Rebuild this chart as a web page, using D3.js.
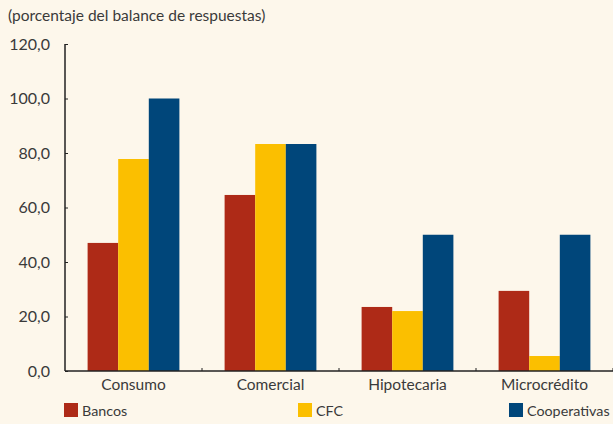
<!DOCTYPE html>
<html>
<head>
<meta charset="utf-8">
<script src="https://cdn.jsdelivr.net/npm/d3@7"></script>
<style>
  body { margin: 0; background: #fdf7eb; }
  svg { display: block; }
  text { font-family: Lato, "Open Sans", sans-serif; fill: #3a3a3a; }
</style>
</head>
<body>
<script>
// data
var categories = ["Consumo", "Comercial", "Hipotecaria", "Microcrédito"];
var seriesNames = ["Bancos", "CFC", "Cooperativas"];
var bancos = [47.0, 64.6, 23.5, 29.4];
var cfc = [77.8, 83.3, 22.0, 5.5];
var cooperativas = [100.0, 83.3, 50.0, 50.0];
var yTicks = [0, 20, 40, 60, 80, 100, 120];
var colors = ["#ae2a17", "#fbbf00", "#00467a"];

var w = 613, h = 424;
var svg = d3.select("body").append("svg").attr("width", w).attr("height", h);

svg.append("rect").attr("width", w).attr("height", h).attr("fill", "#fdf7eb");

var x0 = d3.scaleBand().domain(categories).range([65, 613])
  .paddingInner(0.33).paddingOuter(0.165);
var x1 = d3.scaleBand().domain(seriesNames).range([0, x0.bandwidth()]);
var y = d3.scaleLinear().domain([0, 120]).range([371, 44]);

var rows = categories.map(function(c, i) {
  return { cat: c, vals: [bancos[i], cfc[i], cooperativas[i]] };
});

// title
svg.append("text").attr("x", 8).attr("y", 21)
  .style("font-size", "15.5px")
  .text("(porcentaje del balance de respuestas)");

// bars
var groups = svg.append("g").selectAll("g").data(rows).enter().append("g")
  .attr("transform", function(d) { return "translate(" + x0(d.cat) + ",0)"; });
groups.selectAll("rect").data(function(d) { return d.vals; }).enter().append("rect")
  .attr("x", function(d, i) { return x1(seriesNames[i]); })
  .attr("width", x1.bandwidth())
  .attr("y", function(d) { return y(d); })
  .attr("height", function(d) { return y(0) - y(d); })
  .attr("fill", function(d, i) { return colors[i]; });

// y axis
var yAxis = d3.axisRight(y).tickValues(yTicks).tickSize(3)
  .tickFormat(function(d) { return d3.format(".1f")(d).replace(".", ","); });
var yg = svg.append("g").attr("transform", "translate(65,0)").call(yAxis);
yg.select(".domain").attr("d", "M0," + y(120) + "V" + y(0)).attr("stroke", "#222").attr("stroke-width", 1.5);
yg.selectAll(".tick line").attr("stroke", "#222");
yg.selectAll(".tick text").attr("x", -15).attr("text-anchor", "end")
  .style("font-size", "16px").style("font-family", "Lato, sans-serif").attr("fill", "#3a3a3a");

// x axis
var xg = svg.append("g");
xg.append("line").attr("x1", 65).attr("x2", 613).attr("y1", y(0)).attr("y2", y(0))
  .attr("stroke", "#222").attr("stroke-width", 1.5);
var bounds = categories.map(function(c) { return x0(c) - x0.step() * x0.paddingInner() / 2 + x0.step(); });
xg.selectAll("line.tk").data(bounds).enter().append("line").attr("class", "tk")
  .attr("x1", function(d) { return d; }).attr("x2", function(d) { return d; })
  .attr("y1", y(0)).attr("y2", y(0) - 3).attr("stroke", "#222");
xg.selectAll("text").data(categories).enter().append("text")
  .attr("x", function(d) { return x0(d) + x0.bandwidth() / 2; })
  .attr("y", 390).attr("text-anchor", "middle").style("font-size", "15.5px")
  .text(function(d) { return d; });

// legend
var legX = [64, 298, 509];
var leg = svg.append("g").selectAll("g").data(seriesNames).enter().append("g")
  .attr("transform", function(d, i) { return "translate(" + legX[i] + ",403)"; });
leg.append("rect").attr("width", 14).attr("height", 14)
  .attr("fill", function(d, i) { return colors[i]; });
leg.append("text").attr("x", 18).attr("y", 13).style("font-size", "14.3px")
  .text(function(d) { return d; });
</script>
</body>
</html>
